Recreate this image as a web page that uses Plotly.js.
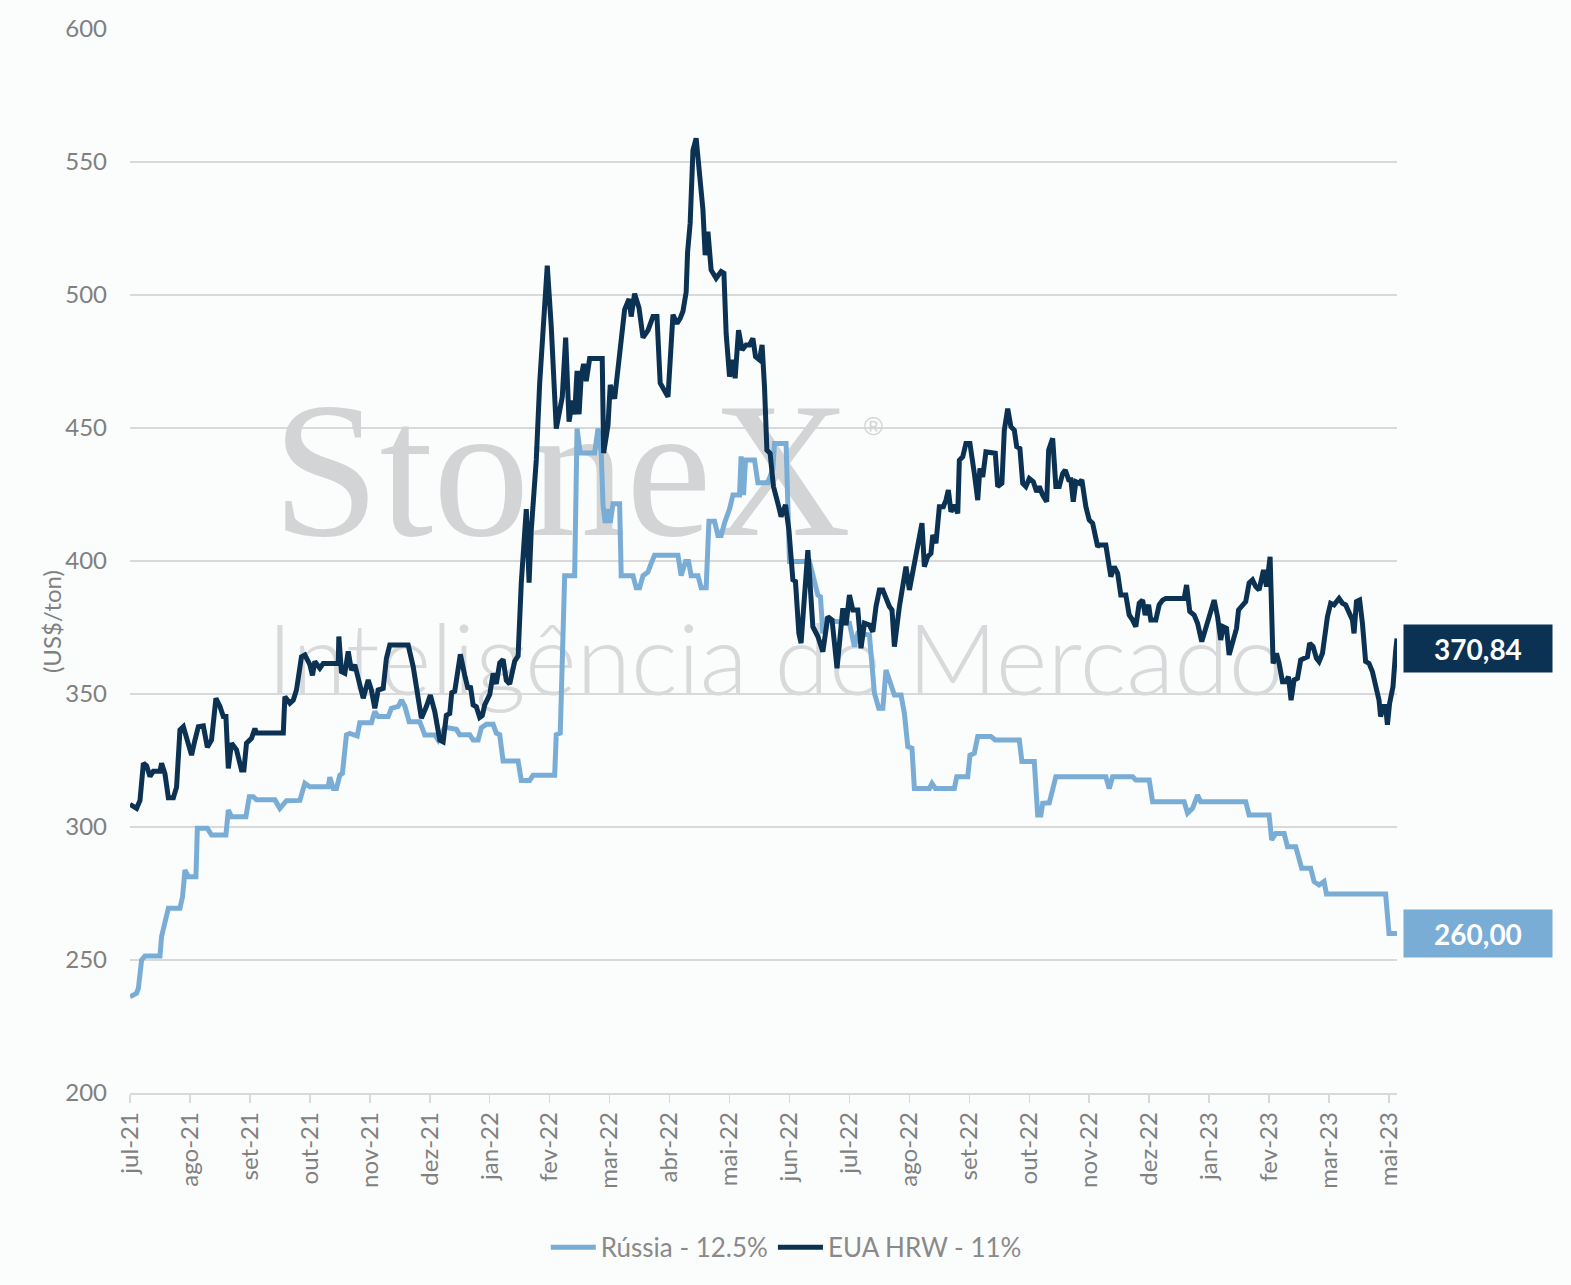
<!DOCTYPE html>
<html>
<head>
<meta charset="utf-8">
<script src="https://cdn.plot.ly/plotly-3.0.1.min.js"></script>
<style>
  html, body { margin: 0; padding: 0; background: #fbfcfc; }
  #chart { width: 1571px; height: 1285px; }
</style>
</head>
<body>
<div id="chart"></div>
<script>
// x = posição na série (dias desde o início, jul-21), y = US$/ton

const tickLabels = [
  'jul-21', 'ago-21', 'set-21', 'out-21', 'nov-21', 'dez-21',
  'jan-22', 'fev-22', 'mar-22', 'abr-22', 'mai-22', 'jun-22',
  'jul-22', 'ago-22', 'set-22', 'out-22', 'nov-22', 'dez-22',
  'jan-23', 'fev-23', 'mar-23', 'mai-23'
];
const TICK_STEP = 30;

const russiaName = 'Rússia - 12.5%';
const russiaX = [
  0, 3.3, 4.2, 5.8, 7.5, 15, 15.8, 17.5, 19.2, 25, 26.3, 27.5, 29.2, 33, 33.7, 38.7,
  40.8, 48, 49.2, 50.8, 58, 59.7, 61.7, 63.3, 72.5, 75, 78.3, 85, 87.5, 90, 99.2, 100,
  101.7, 103.3, 105, 106.3, 108.3, 110, 113.7, 115, 120.8, 122.5, 124.2, 129.2, 130.8,
  134.2, 135.8, 137.5, 139.7, 145, 147.5, 152.5, 154.2, 157.5, 163.3, 165, 170, 171.7,
  174.2, 175.8, 178.3, 181.7, 183.3, 185, 186.7, 194.2, 195.8, 200, 201.7, 212.5, 213.3,
  215.3, 217.5, 222.5, 223.7, 225.3, 232.5, 234.2, 235.8, 236.7, 237.8, 239.2, 240.3,
  241.7, 245, 245.8, 251.7, 253.3, 255, 256.7, 259.2, 260.8, 262.5, 274.2, 275.8, 278,
  279.5, 280.8, 284.2, 285.8, 288.3, 289.7, 292.5, 294.2, 295.8, 297.5, 300, 301.7, 305,
  305.8, 307, 308, 312.5, 314.2, 319.2, 321.7, 322.5, 328.3, 330, 340, 344.2, 345.5,
  346.7, 348.3, 360, 362.5, 364.2, 370, 372.5, 374.7, 376.7, 378.3, 380.3, 382.5, 385.8,
  387.5, 389.2, 391.3, 392.5, 400, 401.3, 403, 412.5, 413.7, 419.2, 420.3, 422.5, 424.2,
  430.8, 433, 445, 446.3, 452.5, 454.2, 455.8, 456.7, 460, 463.3, 488.3, 490, 491.7,
  501.7, 503.3, 510, 511.7, 527.5, 529.2, 531.7, 534.2, 535.8, 558.3, 560, 570, 571.3,
  573.3, 577.5, 579.2, 583.3, 586.3, 590.8, 592.5, 595, 597.5, 598.7, 628.3, 630, 634
];
const russiaY = [
  236.2, 237.5, 239.4, 250, 251.5, 251.5, 258.9, 265, 269.5, 269.5, 273.8, 283.8, 281.3, 281.3, 299.5, 299.5,
  297, 297, 306.4, 303.9, 303.9, 311.4, 311.4, 310.2, 310.2, 307, 309.9, 310, 316.4, 315.1, 315.1, 318.7,
  314.5, 314.5, 319.5, 320.2, 334.6, 335.2, 334.2, 339.2, 339.2, 343.4, 341.5, 341.5, 344.6,
  345.3, 347.7, 345.5, 339.6, 339.6, 334.6, 334.6, 332.7, 337.5, 336.7, 334.7, 334.7, 332.7,
  332.7, 337.3, 338.6, 338.6, 335.3, 334.7, 324.8, 324.8, 317.5, 317.5, 319.5, 319.5, 334.7,
  335.3, 394.5, 394.5, 449.8, 440.6, 440.6, 449.8, 440.6, 420.9, 414.3, 419.5, 414.3,
  421.5, 421.5, 394.5, 394.5, 389.9, 389.9, 394.5, 395.9, 399.1, 402.2, 402.2, 394.5, 399.8,
  399.8, 394.5, 394.5, 389.9, 389.9, 414.9, 414.9, 409.6, 409.6, 414.3, 419.5, 424.8, 424.8,
  439.3, 424.8, 438, 438, 429.4, 429.4, 434.7, 444.2, 444.2, 399.8, 399.8, 387.2, 386.6,
  372.8, 377.8, 376.6, 367.8, 372.8, 372.2, 350.3, 344.6, 344.6, 359, 354, 349.6, 349.6,
  342.7, 330.2, 329.6, 314.5, 314.5, 316.4, 314.5, 314.5, 318.9, 318.9, 327, 327.7, 334,
  334, 332.7, 332.7, 324.6, 324.6, 304.5, 304.5, 308.9, 309.1, 318.9, 318.9, 314.5, 318.9,
  318.9, 317.7, 317.7, 309.5, 309.5, 305.2, 307, 312, 309.5, 309.5, 304.5, 304.5, 295.1,
  297.6, 297.6, 292.6, 292.6, 284.5, 284.5, 279.5, 278.2, 279.5, 274.8, 274.8, 260, 260
];

const hrwName = 'EUA HRW - 11%';
const hrwX = [
  0, 3.3, 5, 6.7, 8.3, 10, 11.7, 15, 15.8, 17.5, 19.2, 21.7, 23.3, 25, 26.7, 28.3, 30.8,
  32.5, 34.2, 36.7, 38.7, 40.8, 43, 45, 46.7, 48, 49.2, 50.8, 53.3, 55.8, 57, 58.3, 60.8,
  62.5, 63.3, 76.7, 77.5, 80, 81.7, 83.3, 85.8, 87.5, 90, 91.3, 92.5, 95, 96.7, 104.2,
  104.5, 105.8, 107.5, 109.2, 110.8, 112.5, 115, 116.7, 119.2, 120.8, 122.5, 124.2, 126.7,
  128.3, 130, 139.2, 141.7, 143.3, 145.8, 148.3, 150.3, 152.5, 155, 156.7, 158.3, 160, 161,
  162.5, 165.3, 167.5, 169.2, 170.3, 171.7, 173.3, 175, 176.3, 177.5, 180, 181.7, 183.3,
  185, 186.7, 188.3, 190, 192.5, 194.2, 195.8, 198.3, 199.7, 200.8, 203.3, 205, 207, 208.8,
  210.8, 213.3, 215.3, 216.3, 218, 219.7, 221.3, 222.5, 223.7, 224.7, 225.8, 227, 228.3,
  230, 236.3, 237, 239.2, 240.3, 242.5, 245, 247.5, 249.7, 250.8, 252.5, 254.7, 256.7,
  259.2, 261.7, 263.7, 265.3, 267, 269.2, 271.7, 273.7, 275.3, 276.7, 278.3, 279, 280.3,
  281.7, 283.3, 285, 286.7, 287.8, 289.2, 290.8, 293.3, 295.8, 297.2, 298.3, 300, 301.7,
  302.8, 304.5, 306.3, 308.3, 310, 311.7, 313, 315, 316.3, 317.5, 318.7, 320.3, 322, 324.2,
  325.8, 328, 329.7, 331.7, 333, 334.7, 335.8, 339.2, 341.7, 344.2, 346.7, 349.2, 351.3,
  353.8, 356.7, 358.3, 360, 361.7, 364.2, 365.8, 367.5, 370, 371.7, 373.3, 375, 376.7,
  378.3, 380, 381.3, 382.5, 385, 386.7, 388.3, 390, 392.5, 394.7, 396.3, 397.5, 399.2,
  400.8, 401.7, 403.3, 405, 407, 408.3, 409.5, 410.8, 412.5, 414.2, 415, 416.7, 418.3,
  420.3, 422.5, 424.2, 425.3, 426.7, 428.3, 430.8, 433, 434.2, 436.3, 437.5, 439.2, 440.8,
  442.5, 443.7, 445.3, 446.7, 448.3, 450, 452, 453.7, 455, 456.7, 458.7, 459.7, 461.7,
  463.3, 465, 466.7, 468, 469.7, 470.8, 472, 473.3, 475, 476.3, 478.3, 480, 481.7, 484.2,
  485, 488.3, 490.8, 492.5, 494.2, 495.8, 498.3, 500, 501.7, 503.3, 505, 506.7, 508, 509.7,
  510.8, 513.3, 515, 516.7, 518.3, 527.5, 528.7, 530.3, 532.5, 534.2, 536.3, 538, 540.3,
  542.5, 544.2, 545.8, 547, 548.7, 550, 551.7, 553.7, 554.7, 556.7, 558.3, 560, 561.7,
  563.3, 565, 567.2, 568.7, 570.5, 571.3, 572, 573.7, 575, 576.7, 578.3, 579.7, 581, 582.5,
  584.2, 585.8, 587.5, 589.2, 590.3, 592, 593.7, 595, 596.7, 598, 599.2, 600.8, 602.5, 605,
  606.7, 608.3, 610, 611.7, 612.5, 613.7, 615.3, 616.7, 618.3, 620, 621.7, 623.3, 625,
  625.8, 627, 628.3, 629.2, 630.3, 632, 633.3, 634
];
const hrwY = [
  308.5, 307, 310, 324, 323, 319, 321, 321, 324, 320, 311, 311, 315, 336.5, 337.7, 334, 327,
  332.7, 337.7, 338, 330, 332.7, 348.4, 345.3, 341.5, 341.5, 322, 331.5, 329, 321.4, 321.4, 331.5, 333.3,
  337, 335.3, 335.3, 349, 346.5, 347.7, 351.5, 364, 364.7, 361, 357, 362.2, 359.7, 361.5, 361.5,
  371.6, 358.4, 357.8, 366, 359, 361, 353.4, 348.4, 355.3, 351.5, 344.6, 351.5, 352.1,
  363.4, 368.4, 368.4, 360.3, 352.8, 340.9, 345.3, 349.6, 343.4, 332.7, 332, 342, 342.7, 350.5,
  351, 364.9, 357, 351.8, 353.1, 345.9, 345.2, 341.2, 341.9, 345.9, 349.8, 357.7, 353.8,
  361.7, 363, 355.1, 353.8, 362.3, 364.3, 391.9, 419.5, 391.9, 411.7, 438, 466.9, 490.6, 511,
  488, 449.8, 457.7, 461.7, 484, 452.4, 460.3, 455.1, 471.5, 455.1, 469.5, 474.1, 467.6,
  476.1, 476.1, 440.6, 451.1, 466.2, 461, 477.4, 494.5, 498.5, 491.9, 500.5, 495.2, 484,
  486.7, 491.9, 491.9, 466.9, 464.3, 461.7, 492.6, 489.3, 491.2, 493.9, 501.1, 516, 527,
  554.5, 558.9, 544.5, 532, 515, 523.8, 509.4, 506.3, 508.8, 508.2, 485.6, 469.3, 475.6,
  468.7, 486.8, 479.3, 481.2, 481.2, 483.7, 476.8, 475.6, 481.2, 465.5, 441.7, 440.5, 428, 421.7,
  416.7, 421.1, 411.7, 392.9, 392.3, 372.8, 369.1, 404.1, 375.3, 371.6, 365.9, 379.1, 377.8,
  359.7, 382.2, 375.9, 387.2, 381.6, 381.6, 367.2, 376.6, 375.9, 373.4, 382.9, 389.1, 389.1,
  385.9, 382.9, 381.6, 367.8, 382.9, 391.7, 397.9, 389.1, 399.1, 407.9, 414.2, 397.9, 401.7,
  402.9, 409.8, 406.7, 420.4, 420.4, 422.9, 426.7, 418.5, 421.1, 417.9, 437.9, 439.2, 444.2,
  444.2, 432.9, 422.9, 434.8, 431.6, 441, 440.5, 440.5, 428, 429.2, 449.2, 457.3, 450.5,
  449.2, 443, 442.3, 429.2, 428, 431, 429.8, 426, 428, 424.8, 422.3, 441.7, 446.1,
  428, 428, 432.9, 434.2, 430.5, 430.5, 422.3, 429.8, 429.2, 430.5, 420.4, 415.4, 414.2, 405.4,
  406, 406, 394.1, 397.9, 395.4, 387.2, 387.2, 379.7, 377.8, 375.3, 384.1, 385.3, 379.7, 383.5,
  377.8, 377.8, 383.5, 385.3, 385.9, 385.9, 391, 381, 379.7, 376.6, 369.7, 374.1, 381,
  385.3, 379.1, 370.3, 375.3, 374.7, 364.7, 369.1, 374.7, 381.6, 383.5, 384.7, 391.7, 392.9,
  390.4, 389.1, 396.6, 390.4, 401.6, 385.3, 361.5, 365.3, 361.5, 354.6, 354.6, 356.5, 347.7, 355.3,
  355.9, 362.8, 363.4, 364, 369.1, 367.8, 363.4, 362.2, 365.3, 374.7, 379.1, 384.1, 383.5, 385.9,
  384.1, 383.5, 380.4, 377.8, 372.8, 384.7, 385.3, 376.6, 362.2, 361.5, 358.4, 354, 347.7,
  341.5, 345.3, 345.3, 338.4, 346.5, 352.8, 366, 370.84
];

const NAVY = '#0b3153';
const LIGHT = '#7aadd5';
const GREY = '#808080';

function fmtValue(v) {
  return v.toFixed(2).replace('.', ',');
}

// watermark sits under the lines, so it is drawn as the first (text) traces
function watermark(x, y, text, font) {
  return {
    type: 'scatter', mode: 'text', x: [x], y: [y], text: [text],
    textposition: 'middle center', textfont: font,
    hoverinfo: 'skip', showlegend: false, cliponaxis: false,
  };
}

const traces = [
  watermark(216, 428, 'StoneX', {family: 'Liberation Serif', size: 193, color: '#d3d4d6'}),
  watermark(372, 450, '®', {family: 'Liberation Sans', size: 26, color: '#d3d4d6'}),
  watermark(323, 359, 'Inteligência de Mercado', {family: 'Lato', size: 99, weight: 300, color: '#d8d9db'}),
  {
    type: 'scatter', mode: 'lines', name: russiaName,
    x: russiaX, y: russiaY,
    line: {color: LIGHT, width: 5},
  },
  {
    type: 'scatter', mode: 'lines', name: hrwName,
    x: hrwX, y: hrwY,
    line: {color: NAVY, width: 5},
  },
];

function endLabel(xs, ys, color, yshift) {
  const i = xs.length - 1;
  return {
    x: xs[i], y: ys[i], xref: 'x', yref: 'y',
    text: fmtValue(ys[i]), showarrow: false,
    xanchor: 'left', yanchor: 'middle', xshift: 6, yshift: yshift,
    bgcolor: color, width: 142, height: 41, borderpad: 3,
    font: {family: 'Lato', size: 28, color: '#ffffff', weight: 'bold'},
  };
}

const layout = {
  width: 1571,
  height: 1285,
  paper_bgcolor: '#fbfcfc',
  plot_bgcolor: '#fbfcfc',
  margin: {l: 130, r: 174, t: 29, b: 192},
  font: {family: 'Lato, sans-serif', color: GREY, size: 24},
  showlegend: true,
  legend: {
    orientation: 'h', x: 0.518, xanchor: 'center', y: -0.145, yanchor: 'middle',
    font: {size: 26, color: '#8a8a8a'}, bgcolor: 'rgba(0,0,0,0)',
    itemwidth: 45, tracegroupgap: 0,
  },
  xaxis: {
    range: [0, 634],
    tickmode: 'array',
    tickvals: tickLabels.map((_, i) => i * TICK_STEP),
    ticktext: tickLabels,
    tickangle: -90,
    showgrid: false, zeroline: false,
    showline: true, linecolor: '#d9d9d9', linewidth: 1.5,
    ticks: 'outside', ticklen: 8, tickcolor: '#d9d9d9', tickwidth: 1.5,
    tickfont: {size: 24, color: GREY},
  },
  yaxis: {
    range: [200, 600], tick0: 200, dtick: 50,
    gridcolor: '#d9d9d9', gridwidth: 1.5,
    zeroline: false, showline: false, ticks: '',
    ticklabelstandoff: 22,
    tickfont: {size: 24, color: GREY},
  },
  annotations: [
    {
      text: '(US$/ton)', xref: 'paper', yref: 'paper', x: -0.075, y: 0.443,
      textangle: -90, showarrow: false, font: {size: 24, color: GREY},
    },
    endLabel(hrwX, hrwY, NAVY, -10),
    endLabel(russiaX, russiaY, LIGHT, 0),
  ],
};

Plotly.newPlot('chart', traces, layout, {displayModeBar: false, staticPlot: true});
</script>
</body>
</html>
